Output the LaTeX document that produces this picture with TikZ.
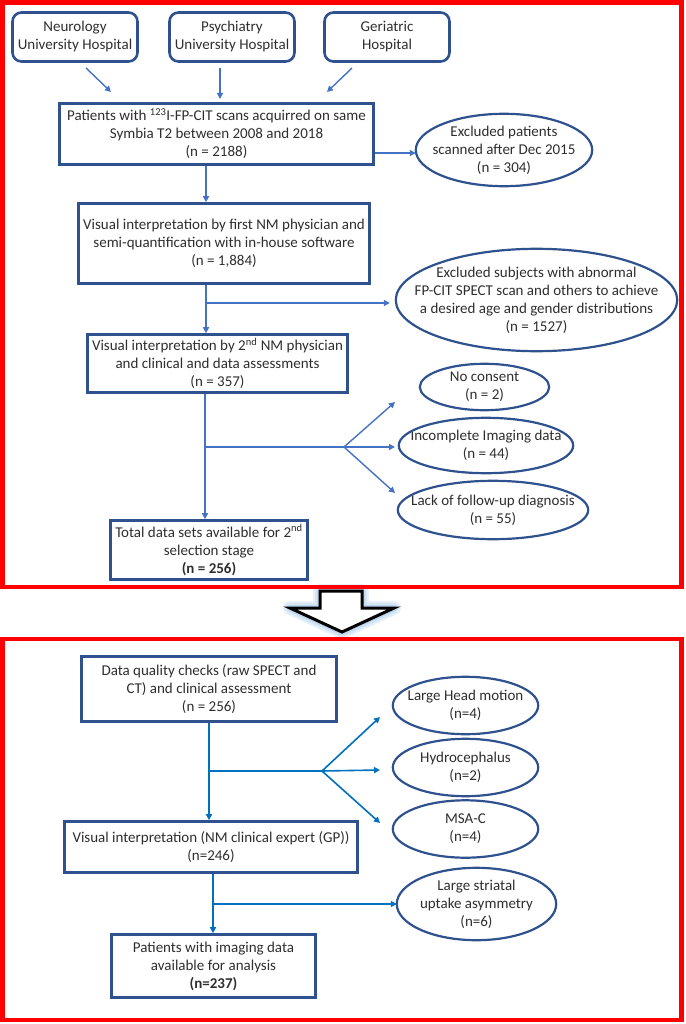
\documentclass[tikz,border=0pt]{standalone}
\usepackage{fontspec}
\setmainfont{Carlito}
\usetikzlibrary{arrows.meta, positioning, calc}
\definecolor{boxblue}{HTML}{2F528F}
\definecolor{topline}{HTML}{4472C4}
\definecolor{lowline}{HTML}{0070C0}
\definecolor{glowblue}{HTML}{BDD7EE}

\begin{document}
\begin{tikzpicture}[x=1pt, y=-1pt,
    every node/.style={font=\fontsize{15}{18}\selectfont, text=black!82, align=center},
    hosp/.style={draw=boxblue, line width=2.6pt, rounded corners=9pt, minimum width=125pt, minimum height=49pt, inner sep=0pt},
    stage/.style 2 args={draw=boxblue, line width=2.6pt, minimum width=#1, minimum height=#2, inner sep=0pt},
    excl/.style 2 args={minimum width=#1, minimum height=#2, inner sep=0pt},
    arr/.style={-{Triangle[length=6pt,width=6pt]}, line width=1.4pt, draw=topline},
    arrlow/.style={-{Triangle[length=6pt,width=6pt]}, line width=1.6pt, draw=lowline},
    frame/.style={draw=red, line width=4.5pt}]
    \useasboundingbox (0,0) rectangle (685,1024);

    % down arrow between the two stages
    \foreach \w/\c in {14/glowblue!35, 10/glowblue!65, 6/glowblue}
        \path [draw=\c, line width=\w pt, line join=round] (320,591) -- (362,591) -- (362,608) -- (394,608) -- (342,632) -- (290,608) -- (320,608) -- cycle;
    \path [fill=white, draw=black, line width=3pt, line join=miter] (320,591) -- (362,591) -- (362,608) -- (394,608) -- (342,632) -- (290,608) -- (320,608) -- cycle;
    \draw [frame] (2.5,2.5) rectangle (681.5,587);
    \draw [frame] (2.5,639) rectangle (681.5,1020);

    % first selection stage
    \node (neuro) [hosp] at (75,37) {Neurology\\University Hospital};
    \node (psych) [hosp] at (232,37) {Psychiatry\\University Hospital};
    \node (geri) [hosp] at (387,37) {Geriatric\\Hospital};
    \node (scan) [stage={314pt}{61pt}] at (216.5,134) {Patients with \textsuperscript{123}I-FP-CIT scans acquirred on same\\Symbia T2 between 2008 and 2018\\(n = 2188)};
    \node (first) [stage={291pt}{80pt}] at (224,243.5) {Visual interpretation by first NM physician and\\semi-quantification with in-house software\\(n = 1,884)};
    \node (second) [stage={260pt}{58pt}] at (217.5,363.5) {Visual interpretation by 2\textsuperscript{nd} NM physician\\and clinical and data assessments\\(n = 357)};
    \node (total) [stage={197pt}{59pt}] at (209,550) {Total data sets available for 2\textsuperscript{nd}\\selection stage\\\textbf{(n = 256)}};
    \node (late) [excl={176pt}{72pt}] at (504,150) {Excluded patients\\scanned after Dec 2015\\(n = 304)};
    \node (abnormal) [excl={281pt}{102pt}] at (536.5,300) {Excluded subjects with abnormal\\FP-CIT SPECT scan and others to achieve\\a desired age and gender distributions\\(n = 1527)};
    \node (consent) [excl={129pt}{46pt}] at (484.5,387) {No consent\\(n = 2)};
    \node (incomplete) [excl={174pt}{55pt}] at (486,445.5) {Incomplete Imaging data\\(n = 44)};
    \node (followup) [excl={190pt}{58pt}] at (493,510) {Lack of follow-up diagnosis\\(n = 55)};

    % second selection stage
    \node (quality) [stage={255pt}{65pt}] at (209,689) {Data quality checks (raw SPECT and\\CT) and clinical assessment\\(n = 256)};
    \node (expert) [stage={293pt}{51pt}] at (211,847) {Visual interpretation (NM clinical expert (GP))\\(n=246)};
    \node (final) [stage={204pt}{63pt}] at (213.5,966) {Patients with imaging data\\available for analysis\\\textbf{(n=237)}};
    \node (motion) [excl={145pt}{57pt}] at (465.5,705.5) {Large Head motion\\(n=4)};
    \node (hydro) [excl={145pt}{57pt}] at (465.5,767.5) {Hydrocephalus\\(n=2)};
    \node (msa) [excl={145pt}{57pt}] at (465.5,829) {MSA-C\\(n=4)};
    \node (asym) [excl={159pt}{72pt}] at (476.5,904) {Large striatal\\uptake asymmetry\\(n=6)};

    \foreach \e in {late, abnormal, consent, incomplete, followup, motion, hydro, msa, asym}
        \draw [boxblue, line width=2.2pt] let \p1 = ($(\e.north east)-(\e.center)$) in (\e.center) ellipse [x radius=\x1, y radius=\y1];

    % connectors, first stage
    \coordinate (h1) at (86,68);   \coordinate (h1e) at (111,92);
    \coordinate (h2) at (220,68);  \coordinate (h2e) at (220,99);
    \coordinate (h3) at (352,68);  \coordinate (h3e) at (327,92);
    \coordinate (j1) at (206,303);
    \coordinate (j2) at (205,447);
    \coordinate (f2) at (344,447);
    \coordinate (c1) at (395,402); \coordinate (c2) at (395,447); \coordinate (c3) at (395,493);
    \draw [arr] (h1) -- (h1e);
    \draw [arr] (h2) -- (h2e);
    \draw [arr] (h3) -- (h3e);
    \draw [arr] (scan.east |- 0,153) -- (late.west |- 0,153);
    \draw [arr] (scan.south -| j1) -- (first.north -| j1);
    \draw [arr] (first.south -| j1) -- (second.north -| j1);
    \draw [arr, shorten >=6pt] (j1) -- (j1 -| abnormal.west);
    \draw [arr] (second.south -| j2) -- (total.north -| j2);
    \draw [topline, line width=1.4pt] (j2) -- (f2);
    \foreach \c in {c1, c2, c3}
        \draw [arr] (f2) -- (\c);

    % connectors, second stage
    \coordinate (j3) at (209,771);
    \coordinate (f3) at (322,771);
    \coordinate (j4) at (213,904);
    \coordinate (m1) at (380,717); \coordinate (m2) at (380,770); \coordinate (m3) at (380,823);
    \draw [arrlow] (quality.south -| j3) -- (expert.north -| j3);
    \draw [lowline, line width=1.6pt] (j3) -- (f3);
    \foreach \c in {m1, m2, m3}
        \draw [arrlow] (f3) -- (\c);
    \draw [arrlow] (expert.south -| j4) -- (final.north -| j4);
    \draw [arrlow] (j4) -- (asym.west |- j4);
\end{tikzpicture}
\end{document}
